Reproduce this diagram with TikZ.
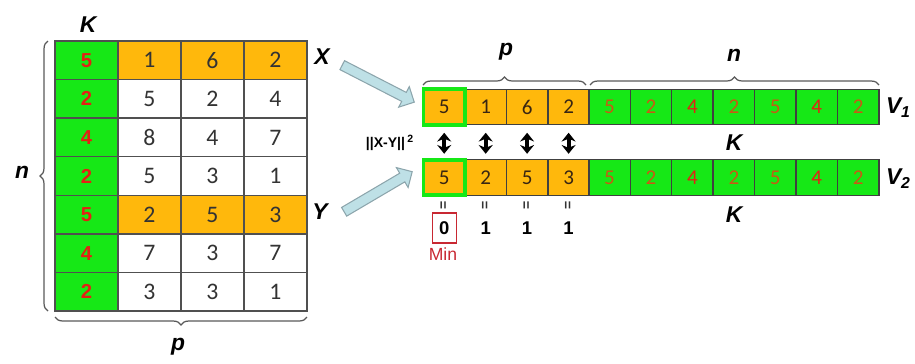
\documentclass[tikz,border=0pt]{standalone}
\usepackage{fontspec}
\setmainfont{Carlito}
\newfontfamily\arialf{Liberation Sans}
\usetikzlibrary{shapes.arrows,decorations.pathreplacing,arrows.meta}
\definecolor{cgreen}{RGB}{22,232,22}
\definecolor{corange}{RGB}{255,184,12}
\definecolor{kred}{RGB}{228,32,20}
\definecolor{kbrown}{RGB}{200,90,20}
\definecolor{gridc}{RGB}{80,80,80}
\definecolor{arrfill}{RGB}{190,224,230}
\definecolor{arrdraw}{RGB}{140,165,172}
\definecolor{minred}{RGB}{200,40,50}
\tikzset{
  mcell/.style={draw=gridc, line width=0.8pt, minimum width=1.26cm, minimum height=0.7714cm, inner sep=0pt, outer sep=0pt, font=\fontsize{13.5}{13.5}\selectfont, text=black!80},
  kcell/.style={mcell, fill=cgreen, text=kred, font=\arialf\bfseries\fontsize{11.5}{11.5}\selectfont},
  vcell/.style={draw=black!75, line width=0.8pt, minimum width=0.829cm, minimum height=0.71cm, inner sep=0pt, outer sep=0pt, font=\fontsize{12}{12}\selectfont},
  gcell/.style={vcell, fill=cgreen},
  lbl/.style={font=\arialf\bfseries\itshape\fontsize{13}{13}\selectfont, inner sep=0pt},
  brc/.style={draw=black!65, line width=0.7pt, decorate, decoration={brace, amplitude=0.16cm}},
  dbl/.style={line width=2.2pt, {Stealth[length=5pt,width=8pt]}-{Stealth[length=5pt,width=8pt]}, shorten <=0.16cm, shorten >=0.12cm},
  bigarr/.style={single arrow, draw=arrdraw, fill=arrfill, line width=0.6pt, inner xsep=0pt, inner ysep=0.09cm, single arrow head extend=0.13cm, single arrow head indent=0pt, outer sep=0pt, single arrow tip angle=90},
  res/.style={font=\arialf\bfseries\fontsize{10.5}{10.5}\selectfont, inner sep=0pt},
  eqm/.style={font=\arialf\bfseries\fontsize{8}{8}\selectfont, rotate=90, inner sep=0pt, text=black!80}
}
\begin{document}
\begin{tikzpicture}[x=0.02cm,y=-0.02cm]
\useasboundingbox (0,0) rectangle (915,363);
% matrix
\foreach \r/\k/\a/\b/\c/\f in {1/5/1/6/2/corange,2/2/5/2/4/white,3/4/8/4/7/white,4/2/5/3/1/white,5/5/2/5/3/corange,6/4/7/3/7/white,7/2/3/3/1/white}{
  \pgfmathsetmacro\yy{41+38.57*(\r-0.5)}
  \node[kcell] (m\r-0) at (86.5,\yy) {\k};
  \node[mcell, fill=\f] (m\r-1) at (149.5,\yy) {\a};
  \node[mcell, fill=\f] (m\r-2) at (212.5,\yy) {\b};
  \node[mcell, fill=\f] (m\r-3) at (275.5,\yy) {\c};
}
\node[lbl] (K0) at (88,25) {K};
\draw[brc] (48,311) -- (48,41);
\node[lbl] (nl) at (22,172) {n};
\draw[brc] (307,317) -- (55,317);
\node[lbl] (pl) at (178,347) {p};
\node[lbl] (X) at (322,57) {X};
\node[lbl] (Y) at (320,212) {Y};
% vectors
\foreach \v/\yy/\a/\b/\c/\d in {1/107/5/1/6/2,2/177.5/5/2/5/3}{
  \node[vcell, fill=corange, text=black!70!brown] (v\v-2) at (485.7,\yy) {\b};
  \node[vcell, fill=corange, text=black!70!brown] (v\v-3) at (527.1,\yy) {\c};
  \node[vcell, fill=corange, text=black!70!brown] (v\v-4) at (568.6,\yy) {\d};
  \foreach \i/\t/\col in {5/5/kbrown,6/2/kbrown,7/4/kred,8/2/kbrown,9/5/kbrown,10/4/kred,11/2/kbrown}{
    \pgfmathsetmacro\xx{423+41.45*(\i-0.5)}
    \node[gcell, text=\col] (v\v-\i) at (\xx,\yy) {\t};
  }
  \node[vcell, fill=corange, draw=cgreen, line width=2.2pt, text=black!70!brown] (v\v-1) at (444.2,\yy) {\a};
}
\draw[brc] (423,85) -- (586,85);
\node[lbl] (pt) at (506,52) {p};
\draw[brc] (590,85) -- (879,85);
\node[lbl] (nt) at (734,55) {n};
\node[lbl] (V1) at (898,108) {V\raisebox{-0.35ex}{\fontsize{9}{9}\selectfont 1}};
\node[lbl] (V2) at (898,179) {V\raisebox{-0.35ex}{\fontsize{9}{9}\selectfont 2}};
\node[lbl] (Km) at (734,143) {K};
\node[lbl] (Kb) at (734,215) {K};
\node[font=\arialf\bfseries\fontsize{8}{8}\selectfont, inner sep=0pt] (dist) at (390,143) {||X-Y||\,\textsuperscript{2}};
\foreach \i in {1,2,3,4}{
  \draw[dbl] (v1-\i.south) -- (v2-\i.north);
  \node[eqm] (eq\i) at (v2-\i.center |- 0,205) {=};
}
\node[res, draw=minred, line width=0.8pt, minimum width=0.48cm, minimum height=0.6cm] (d1) at (v2-1.center |- 0,228) {0};
\node[res] (d2) at (v2-2.center |- 0,228) {1};
\node[res] (d3) at (v2-3.center |- 0,228) {1};
\node[res] (d4) at (v2-4.center |- 0,228) {1};
\node[font=\arialf\fontsize{10}{10}\selectfont, text=minred, inner sep=0pt] (min) at (443,254) {Min};
% big arrows
\node[bigarr, minimum height=1.62cm, rotate=-27.2] (ax) at (376,82.5) {};
\node[bigarr, minimum height=1.58cm, rotate=30.5] (ay) at (376,193) {};
\end{tikzpicture}
\end{document}
